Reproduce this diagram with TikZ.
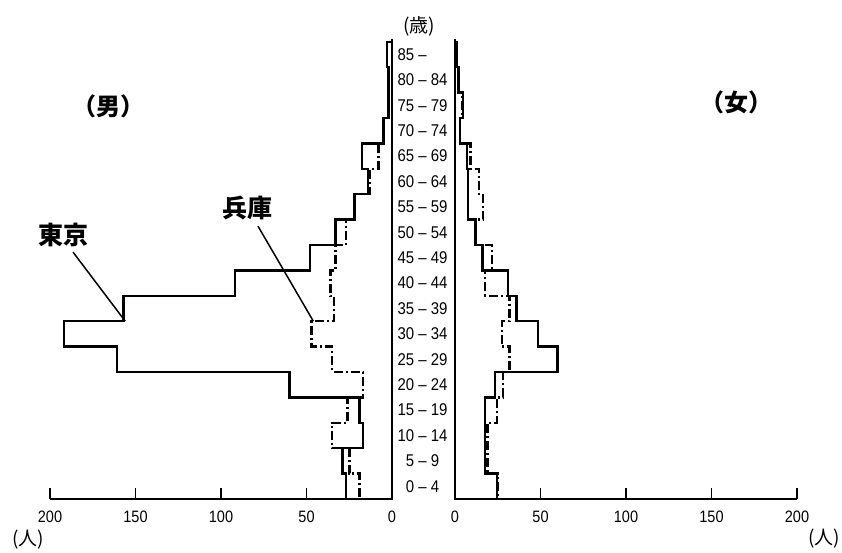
\documentclass[tikz,border=0pt]{standalone}
\usepackage{fontspec}
\setmainfont{Liberation Sans}[FakeStretch=0.88]
\newfontfamily\cjk{Noto Sans CJK JP}

\usetikzlibrary{positioning}

\begin{document}
\begin{tikzpicture}[x=1pt,y=1pt,
    axis/.style={line width=1.8pt},
    tokyo/.style={line width=2.3pt},
    hyogo/.style={line width=2.5pt,dash pattern=on 9pt off 3pt on 2pt off 3pt},
    leader/.style={line width=1.5pt},
    num/.style={font=\fontsize{16.5}{17}\selectfont,inner sep=0pt},
    agelab/.style={font=\fontsize{17}{17}\selectfont,inner sep=0pt},
    sextitle/.style={font=\cjk\bfseries\fontsize{24}{25}\selectfont,inner sep=0pt},
    pref/.style={font=\cjk\bfseries\fontsize{25}{26}\selectfont,inner sep=0pt},
    unit/.style={font=\cjk\fontsize{19}{20}\selectfont,inner sep=0pt}]

\useasboundingbox (0,0) rectangle (842,552);

% male side
\begin{scope}[shift={(392,53)},xscale=-1.71,yscale=25.4]
  \draw[axis] (0,18.1) -- (0,0) -- (200,0);
  \foreach \t in {50,100,150,200}
    \draw[axis] (\t,0) -- (\t,0.43);
  \foreach \t in {0,50,100,150,200}
    \node[num] (ml\t) at (\t,-0.72) {\t};
  \draw[tokyo] (0,0) \foreach \v [count=\i from 0] in
    {27,29,17,19,60,161,192,157,92,48,33,22,14,17.5,5,2,2,3}
    { -- (\v,\i) -- (\v,\i+1) } -- (0,18);
  \draw[hyogo] (0,0) \foreach \v [count=\i from 0] in
    {19,25,35,26,17,35,47,34,36,33,27,22,13,8,5,2,2,3}
    { -- (\v,\i) -- (\v,\i+1) } -- (0,18);
  \coordinate (tokyo-pt) at (156,7);
  \coordinate (hyogo-pt) at (46,7);
\end{scope}

% female side
\begin{scope}[shift={(455,53)},xscale=1.71,yscale=25.4]
  \draw[axis] (0,18.1) -- (0,0) -- (200,0);
  \foreach \t in {50,100,150,200}
    \draw[axis] (\t,0) -- (\t,0.43);
  \foreach \t in {0,50,100,150,200}
    \node[num] (fl\t) at (\t,-0.72) {\t};
  \draw[tokyo] (0,0) \foreach \v [count=\i from 0] in
    {24.5,17.5,17.5,17.5,23.5,60,48.7,36,31,16,12,7.6,7.5,7,3,4.5,2,1}
    { -- (\v,\i) -- (\v,\i+1) } -- (0,18);
  \draw[hyogo] (0,0) \foreach \v [count=\i from 0] in
    {25,19,19,24.5,28,32,27.5,32,17.5,21.5,12,16.5,14,9,3,4.5,2,1}
    { -- (\v,\i) -- (\v,\i+1) } -- (0,18);
\end{scope}

% age classes
\foreach \lab [count=\i from 0] in {0 -- 4,5 -- 9,10 -- 14,15 -- 19,20 -- 24,
    25 -- 29,30 -- 34,35 -- 39,40 -- 44,45 -- 49,50 -- 54,55 -- 59,60 -- 64,
    65 -- 69,70 -- 74,75 -- 79,80 -- 84,{85 --\hphantom{ 84}}}
  \node[agelab] (age\i) at (422.5,{53+25.4*(\i+0.5)}) {\lab};

\node[unit] (years) at (419,526) {(歳)};
\node[sextitle] (male) at (108,446) {（男）};
\node[sextitle] (female) at (736,450) {（女）};
\node[unit] (unit-l) at (28,12) {(人)};
\node[unit] (unit-r) at (824,13) {(人)};

\node[pref] (tokyo) at (63,317) {東京};
\node[pref] (hyogo) at (247,344) {兵庫};
\draw[leader] ([shift={(10pt,-5pt)}]tokyo.south) -- (tokyo-pt);
\draw[leader] ([shift={(11pt,-6pt)}]hyogo.south) -- (hyogo-pt);
\end{tikzpicture}
\end{document}
